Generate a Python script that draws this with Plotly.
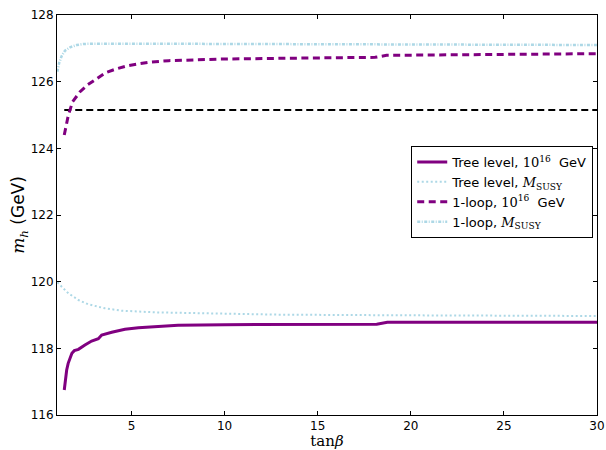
import plotly.graph_objects as go

# tan(beta) values and Higgs masses (GeV) for each curve
tb_tree16 = [1.39, 1.45, 1.52, 1.6, 1.7, 1.8, 1.93, 2.15, 2.5, 2.86, 3.22, 3.3, 3.4,
             3.94, 4.65, 5.37, 6.23, 7.5, 10, 13, 16, 18.17, 18.74, 22, 26, 30]
mh_tree16 = [116.75, 117.1, 117.35, 117.55, 117.72, 117.85, 117.93, 117.97, 118.1,
             118.22, 118.29, 118.33, 118.40, 118.48, 118.57, 118.62, 118.65, 118.69,
             118.71, 118.72, 118.72, 118.72, 118.78, 118.78, 118.78, 118.78]

tb_tree_s = [1.02, 1.3, 1.61, 2.15, 2.68, 3.58, 4.47, 6.23, 8, 10, 13, 20, 30]
mh_tree_s = [119.98, 119.82, 119.65, 119.45, 119.32, 119.2, 119.13, 119.08, 119.06,
             119.04, 119.01, 118.99, 118.97]

tb_loop16 = [1.39, 1.5, 1.61, 1.84, 2.24, 2.63, 3.13, 3.61, 4.17, 4.74, 5.33, 5.9, 7,
             8.5, 10, 13, 16, 18.08, 18.7, 22, 26, 30]
mh_loop16 = [124.4, 124.75, 125.0, 125.4, 125.7, 125.9, 126.1, 126.27, 126.38, 126.47,
             126.53, 126.58, 126.63, 126.66, 126.68, 126.7, 126.72, 126.73, 126.79,
             126.8, 126.82, 126.84]

tb_loop_s = [1.02, 1.06, 1.12, 1.25, 1.43, 1.7, 2.06, 2.41, 3, 5, 10, 20, 30]
mh_loop_s = [126.3, 126.42, 126.57, 126.77, 126.93, 127.03, 127.1, 127.13, 127.14,
             127.14, 127.13, 127.12, 127.1]

# measured Higgs mass reference line
ref_tb = [1.39, 30]
ref_mh = 125.15

x_ticks = [5, 10, 15, 20, 25, 30]
y_ticks = [116, 118, 120, 122, 124, 126, 128]

PURPLE = "#800080"
LIGHTBLUE = "#ADD8E6"
SERIF = "font-family:DejaVu Serif"

ten16 = f"<span style='{SERIF}'>10<sup>16</sup></span>"
msusy = f"<span style='{SERIF}'><i>M</i><sub>SUSY</sub></span>"

fig = go.Figure()

fig.add_trace(go.Scatter(
    x=ref_tb, y=[ref_mh] * len(ref_tb), mode="lines", showlegend=False,
    line=dict(color="black", width=1.8, dash="7px,4px")))

fig.add_trace(go.Scatter(
    x=tb_tree16, y=mh_tree16, mode="lines", name=f"Tree level, {ten16}  GeV",
    line=dict(color=PURPLE, width=3)))

fig.add_trace(go.Scatter(
    x=tb_tree_s, y=mh_tree_s, mode="lines", name=f"Tree level, {msusy}",
    line=dict(color=LIGHTBLUE, width=2, dash="2px,2.5px")))

fig.add_trace(go.Scatter(
    x=tb_loop16, y=mh_loop16, mode="lines", name=f"1-loop, {ten16}  GeV",
    line=dict(color=PURPLE, width=3, dash="7px,4.5px")))

fig.add_trace(go.Scatter(
    x=tb_loop_s, y=mh_loop_s, mode="lines", name=f"1-loop, {msusy}",
    line=dict(color=LIGHTBLUE, width=2.5, dash="3px,1.5px,1px,1.5px")))

axis_common = dict(
    showline=True, linecolor="black", linewidth=1, mirror="ticks",
    ticks="inside", ticklen=4, tickcolor="black", tickwidth=1,
    showgrid=False, zeroline=False, automargin=False,
    tickfont=dict(family="DejaVu Sans", size=12, color="black"),
)

fig.update_xaxes(
    range=[1, 30], tickvals=x_ticks,
    title=dict(text=f"<span style='{SERIF}'>tan<i>β</i></span>",
               font=dict(size=15, color="black"), standoff=5),
    **axis_common)
fig.update_yaxes(
    range=[116, 128], tickvals=y_ticks,
    title=dict(text=f"<span style='{SERIF}'><i>m<sub>h</sub></i></span> (GeV)",
               font=dict(family="DejaVu Sans", size=17, color="black"), standoff=1),
    **axis_common)

fig.update_layout(
    width=606, height=450,
    margin=dict(l=57, r=9, t=15, b=35),
    paper_bgcolor="white", plot_bgcolor="white",
    font=dict(family="DejaVu Sans", color="black"),
    legend=dict(
        x=0.993, y=0.6725, xanchor="right", yanchor="top",
        bgcolor="white", bordercolor="black", borderwidth=1,
        font=dict(family="DejaVu Sans", size=13, color="black"),
        tracegroupgap=0,
    ),
)

fig.write_html("out.html")
